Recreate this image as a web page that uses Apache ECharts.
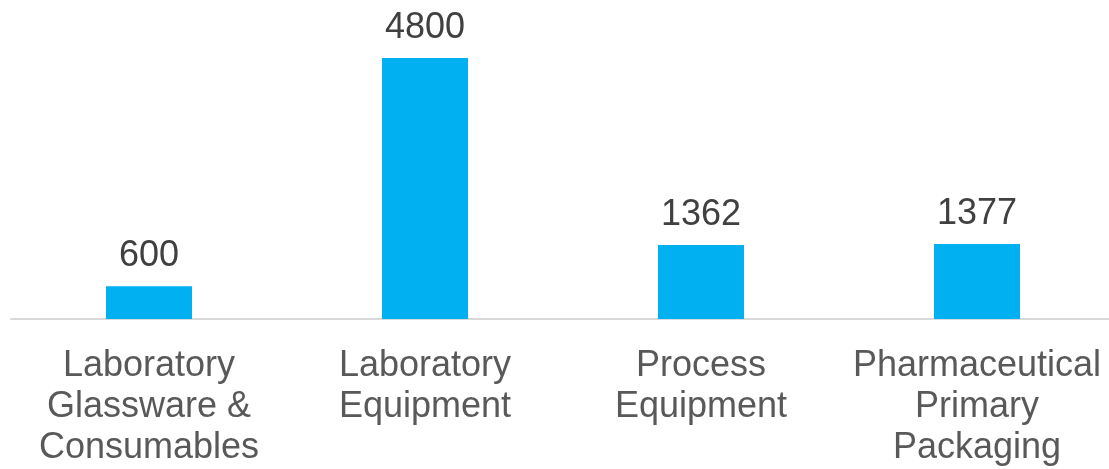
<!DOCTYPE html>
<html>
<head>
<meta charset="utf-8">
<script src="https://cdn.jsdelivr.net/npm/echarts@6/dist/echarts.min.js"></script>
<style>html,body{margin:0;padding:0;background:#fff}#c{width:1109px;height:469px}</style>
</head>
<body>
<div id="c"></div>
<script>
var categories = ['Laboratory\nGlassware &\nConsumables', 'Laboratory\nEquipment', 'Process\nEquipment', 'Pharmaceutical\nPrimary\nPackaging'];
var values = [600, 4800, 1362, 1377];

var chart = echarts.init(document.getElementById('c'));
chart.setOption({
  animation: false,
  grid: { left: 11, right: -6, top: 47, bottom: 150, outerBoundsMode: 'none', containLabel: false },
  xAxis: {
    type: 'category',
    data: categories,
    axisLine: { show: true, lineStyle: { color: '#d9d9d9', width: 2 } },
    axisTick: { show: false },
    axisLabel: {
      interval: 0,
      margin: 27,
      color: '#595959',
      fontSize: 36,
      lineHeight: 41,
      fontFamily: 'Arial, "Liberation Sans", sans-serif',
      verticalAlign: 'top'
    }
  },
  yAxis: {
    type: 'value',
    min: 0,
    max: 5000,
    show: false,
    splitLine: { show: false }
  },
  series: [{
    type: 'bar',
    data: values,
    barWidth: 86,
    itemStyle: { color: '#00b0f0' },
    label: {
      show: true,
      position: 'top',
      distance: 12,
      color: '#404040',
      fontSize: 36,
      fontFamily: 'Arial, "Liberation Sans", sans-serif'
    }
  }]
});
</script>
</body>
</html>
